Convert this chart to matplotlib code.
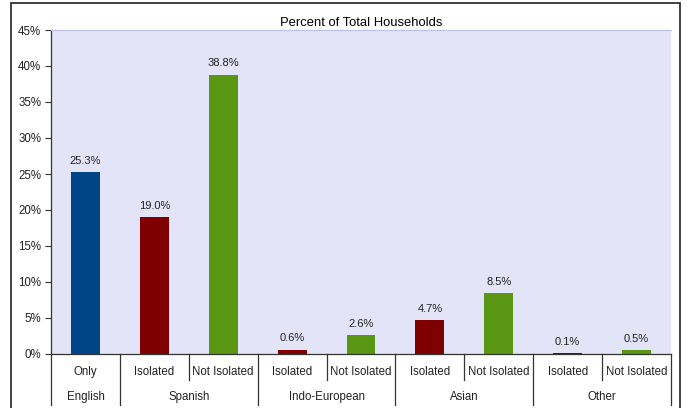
import matplotlib.pyplot as plt
import matplotlib.transforms as mtransforms
from matplotlib.patches import Rectangle

plt.rcParams['font.family'] = ['Liberation Sans', 'DejaVu Sans']

# household share by language group and isolation status
sub_labels = ["Only", "Isolated", "Not Isolated", "Isolated", "Not Isolated",
              "Isolated", "Not Isolated", "Isolated", "Not Isolated"]
groups = ["English", "Spanish", "Indo-European", "Asian", "Other"]
group_sizes = [1, 2, 2, 2, 2]
values = [25.3, 19.0, 38.8, 0.6, 2.6, 4.7, 8.5, 0.1, 0.5]

blue = "#004586"
red = "#7F0000"
green = "#589614"
colors = [blue, red, green, red, green, red, green, red, green]

fig = plt.figure(figsize=(6.88, 4.08), dpi=100)
W, H = 688, 408
ax = fig.add_axes([51 / W, (H - 354) / H, (671 - 51) / W, (354 - 30) / H])
ax.set_facecolor("#E4E4F9")

x = list(range(len(values)))
ax.bar(x, values, width=0.42, color=colors, zorder=2)
for xi, v in zip(x, values):
    ax.annotate(f"{v:.1f}%", (xi, v), xytext=(0, 4.5), textcoords="offset points",
                ha="center", va="bottom", fontsize=8, color="#222222")

ax.set_xlim(-0.5, len(values) - 0.5)
ax.set_ylim(0, 45)
ax.set_yticks(range(0, 46, 5))
ax.set_yticklabels([f"{t}%" for t in range(0, 46, 5)], fontsize=8.3, color="#222222")
ax.tick_params(axis="y", length=4, width=0.8, color="#333333", pad=3)
ax.set_xticks([])

ax.spines["right"].set_visible(False)
ax.spines["top"].set_color("#BDBDF0")
ax.spines["left"].set_color("#333333")
ax.spines["bottom"].set_color("#333333")
ax.spines["left"].set_linewidth(0.9)
ax.spines["bottom"].set_linewidth(0.9)

ax.set_title("Percent of Total Households", fontsize=9.4, pad=3)

# two-row category axis below the bars
trans = mtransforms.blended_transform_factory(ax.transData, ax.transAxes)
row1_y, row2_y = -0.056, -0.133
short_y, long_y = -0.08, -0.157
line_kw = dict(transform=trans, color="#333333", lw=0.9, clip_on=False)

for xi, lab in enumerate(sub_labels):
    ax.text(xi, row1_y, lab, transform=trans, ha="center", va="center",
            fontsize=8.3, color="#222222")

start = 0
ax.plot([-0.5, -0.5], [0, long_y], **line_kw)
for g, n in zip(groups, group_sizes):
    mid = start + (n - 1) / 2
    ax.text(mid, row2_y, g, transform=trans, ha="center", va="center",
            fontsize=8.3, color="#222222")
    for k in range(1, n):
        ax.plot([start + k - 0.5] * 2, [0, short_y], **line_kw)
    start += n
    ax.plot([start - 0.5] * 2, [0, long_y], **line_kw)

# outer chart frame
fig.patches.append(Rectangle((11 / W, -0.05), (680 - 11) / W, 1.05 - 3 / H,
                             transform=fig.transFigure, fill=False,
                             edgecolor="#222222", lw=1.2))

fig.savefig("out.png", dpi=100)
